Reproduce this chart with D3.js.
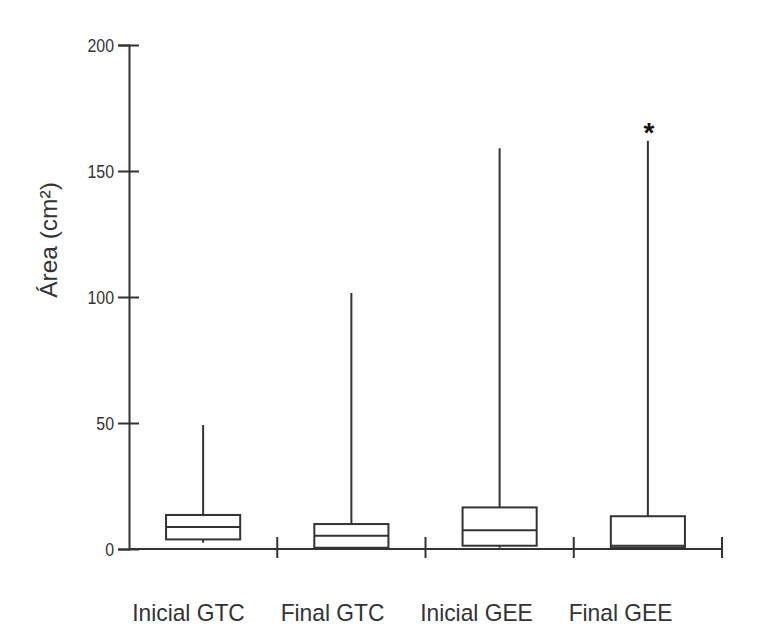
<!DOCTYPE html>
<html>
<head>
<meta charset="utf-8">
<script src="https://cdn.jsdelivr.net/npm/d3@7"></script>
<style>
  body { margin: 0; background: #fff; }
  text { font-family: "Liberation Sans", Arial, sans-serif; fill: #333; }
</style>
</head>
<body>
<div id="chart"></div>
<script>
// chart data
var categories = ["Inicial GTC", "Final GTC", "Inicial GEE", "Final GEE"];
var mins    = [2.5, 0, 0.5, 0];
var q1s     = [3.8, 0.5, 1.3, 0.5];
var medians = [8.7, 5.3, 7.4, 1.3];
var q3s     = [13.5, 9.9, 16.5, 13];
var maxs    = [49.2, 101.6, 159, 162];
var yTicks  = [0, 50, 100, 150, 200];
// significance mark above the whisker of "Final GEE"
var starIndex = 3;

var svgWidth = 758;
var svgHeight = 628;

var margin = { top: 45, right: 36, bottom: 79, left: 129 };
var width = svgWidth - margin.left - margin.right;
var height = svgHeight - margin.top - margin.bottom;

var svg = d3.select("#chart")
  .append("svg")
  .attr("width", svgWidth)
  .attr("height", svgHeight);

var chartGroup = svg.append("g")
  .attr("transform", `translate(${margin.left}, ${margin.top})`);

var xScale = d3.scaleBand()
  .domain(categories)
  .range([0, width])
  .padding(0);

// the category names sit a little left of the boxes, slightly closer together
var labelScale = d3.scalePoint()
  .domain(categories)
  .range([59.5, 491.5]);

var yScale = d3.scaleLinear()
  .domain([0, 200])
  .range([height, 0]);

var boxData = categories.map(function(c, i) {
  return { cat: c, min: mins[i], q1: q1s[i], med: medians[i], q3: q3s[i], max: maxs[i] };
});

var lineColor = "#333";
var lineWidth = 2;

// y axis
var leftAxis = d3.axisLeft(yScale)
  .tickValues(yTicks)
  .tickSize(11)
  .tickPadding(4);

var yAxis = chartGroup.append("g").call(leftAxis);
yAxis.select(".domain").attr("stroke", lineColor).attr("stroke-width", lineWidth);
yAxis.selectAll(".tick line")
  .attr("x1", -11)
  .attr("x2", 10)
  .attr("stroke", lineColor)
  .attr("stroke-width", lineWidth);
yAxis.selectAll(".tick text")
  .style("font-size", "18.5px")
  .attr("fill", "#333")
  .attr("x", -15 / 0.86)
  .attr("transform", "scale(0.86,1)")
  .attr("dy", "0.36em");

// x axis: ticks at the band edges
var xAxis = chartGroup.append("g")
  .attr("transform", `translate(0, ${height})`);
xAxis.append("line")
  .attr("x1", 0)
  .attr("x2", width)
  .attr("stroke", lineColor)
  .attr("stroke-width", lineWidth);
xAxis.selectAll(".xtick")
  .data(categories)
  .enter()
  .append("line")
  .attr("x1", d => xScale(d) + xScale.bandwidth())
  .attr("x2", d => xScale(d) + xScale.bandwidth())
  .attr("y1", -12)
  .attr("y2", 9)
  .attr("stroke", lineColor)
  .attr("stroke-width", lineWidth);

// category labels
xAxis.selectAll(".xlabel")
  .data(categories)
  .enter()
  .append("text")
  .attr("transform", d => `translate(${labelScale(d)}, 72) scale(0.93,1)`)
  .style("text-anchor", "middle")
  .style("font-size", "24.5px")
  .text(d => d);

// boxes
var boxW = xScale.bandwidth() * 0.5;
var boxes = chartGroup.selectAll(".box")
  .data(boxData)
  .enter()
  .append("g")
  .attr("transform", d => `translate(${xScale(d.cat) + xScale.bandwidth() / 2}, 0)`);

boxes.append("line")
  .attr("y1", d => yScale(d.max))
  .attr("y2", d => yScale(d.q3))
  .attr("stroke", lineColor)
  .attr("stroke-width", lineWidth);

boxes.append("line")
  .attr("y1", d => yScale(d.q1))
  .attr("y2", d => yScale(d.min))
  .attr("stroke", lineColor)
  .attr("stroke-width", lineWidth);

boxes.append("rect")
  .attr("x", -boxW / 2)
  .attr("width", boxW)
  .attr("y", d => yScale(d.q3))
  .attr("height", d => yScale(d.q1) - yScale(d.q3))
  .attr("fill", "none")
  .attr("stroke", lineColor)
  .attr("stroke-width", lineWidth);

boxes.append("line")
  .attr("x1", -boxW / 2)
  .attr("x2", boxW / 2)
  .attr("y1", d => yScale(d.med))
  .attr("y2", d => yScale(d.med))
  .attr("stroke", lineColor)
  .attr("stroke-width", lineWidth);

// asterisk
chartGroup.append("text")
  .attr("x", xScale(categories[starIndex]) + xScale.bandwidth() / 2 + 1)
  .attr("y", yScale(maxs[starIndex]) + 1)
  .style("text-anchor", "middle")
  .style("font-size", "28px")
  .style("font-weight", "bold")
  .style("fill", "#111")
  .text("*");

// y axis title
svg.append("text")
  .attr("transform", "translate(57, 240) rotate(-90)")
  .style("text-anchor", "middle")
  .style("font-size", "24.5px")
  .text("Área (cm²)");
</script>
</body>
</html>
